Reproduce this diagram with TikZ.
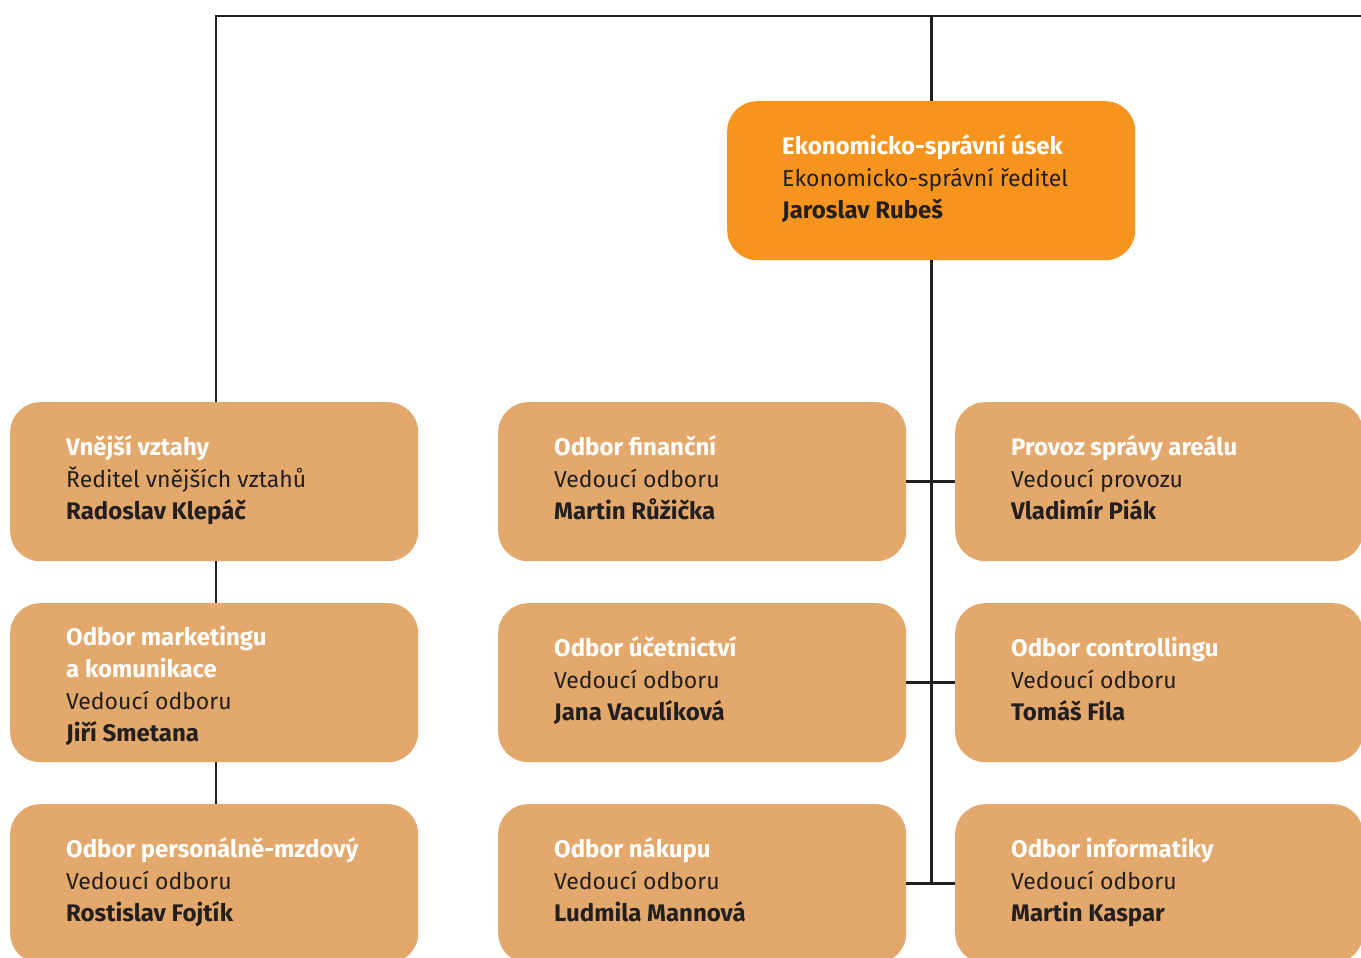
\documentclass[tikz,border=0pt]{standalone}
\usepackage{fontspec}
\setmainfont{Fira Sans}
\usetikzlibrary{calc}
\definecolor{orangeA}{HTML}{F7941D}
\definecolor{tanA}{HTML}{E3A86B}
\definecolor{inkA}{HTML}{231F20}
\newcommand{\hdA}[1]{{\fontsize{24}{32}\selectfont\bfseries\color{white}#1}}
\newcommand{\nmA}[1]{{\fontsize{24}{32}\selectfont\bfseries #1}}
\newcommand{\stA}{\rule{0pt}{26pt}}
\begin{document}
\begin{tikzpicture}[x=1pt,y=-1pt,
  box/.style={draw=none, fill=tanA, rounded corners=30pt, minimum width=408pt, minimum height=159pt, inner sep=0pt, anchor=north west},
  txt/.style={anchor=north west, align=left, inner sep=0pt, font=\fontsize{23}{32}\selectfont, text=inkA},
  link/.style={draw=inkA, line width=2.8pt}]
\useasboundingbox (0,0) rectangle (1361,958);
\clip (0,0) rectangle (1361,958);
% boxes
\node[box, fill=orangeA] (top) at (727,101) {};
\node[box] (l1) at (10,402) {};
\node[box] (l2) at (10,603) {};
\node[box] (l3) at (10,804) {};
\node[box] (m1) at (498,402) {};
\node[box] (m2) at (498,603) {};
\node[box] (m3) at (498,804) {};
\node[box] (r1) at (955,402) {};
\node[box] (r2) at (955,603) {};
\node[box] (r3) at (955,804) {};
% connectors
\coordinate (tr) at (1380,16);
\coordinate (lx) at (216,0);
\draw[link] (tr) -- (tr -| lx) -- (l1.north -| lx);
\draw[link] (top.north |- tr) -- (top.north);
\draw[link] (l1.south -| lx) -- (l2.north -| lx);
\draw[link] (l2.south -| lx) -- (l3.north -| lx);
\draw[link] (top.south) -- (top.south |- m3.east);
\draw[link] (m1.east) -- (r1.west);
\draw[link] (m2.east) -- (r2.west);
\draw[link] (m3.east) -- (r3.west);
% texts
\node[txt] (t0) at ($(top.north west)+(55,27)$) {\stA\hdA{Ekonomicko-správní úsek}\\Ekonomicko-správní ředitel\\\nmA{Jaroslav Rubeš}};
\node[txt] (tl1) at ($(l1.north west)+(56,27)$) {\stA\hdA{Vnější vztahy}\\Ředitel vnějších vztahů\\\nmA{Radoslav Klepáč}};
\node[txt] (tl2) at ($(l2.north west)+(56,16)$) {\stA\hdA{Odbor marketingu}\\\hdA{a komunikace}\\Vedoucí odboru\\\nmA{Jiří Smetana}};
\node[txt] (tl3) at ($(l3.north west)+(56,27)$) {\stA\hdA{Odbor personálně-mzdový}\\Vedoucí odboru\\\nmA{Rostislav Fojtík}};
\node[txt] (tm1) at ($(m1.north west)+(56,27)$) {\stA\hdA{Odbor finanční}\\Vedoucí odboru\\\nmA{Martin Růžička}};
\node[txt] (tm2) at ($(m2.north west)+(56,27)$) {\stA\hdA{Odbor účetnictví}\\Vedoucí odboru\\\nmA{Jana Vaculíková}};
\node[txt] (tm3) at ($(m3.north west)+(56,27)$) {\stA\hdA{Odbor nákupu}\\Vedoucí odboru\\\nmA{Ludmila Mannová}};
\node[txt] (tr1) at ($(r1.north west)+(56,27)$) {\stA\hdA{Provoz správy areálu}\\Vedoucí provozu\\\nmA{Vladimír Piák}};
\node[txt] (tr2) at ($(r2.north west)+(56,27)$) {\stA\hdA{Odbor controllingu}\\Vedoucí odboru\\\nmA{Tomáš Fila}};
\node[txt] (tr3) at ($(r3.north west)+(56,27)$) {\stA\hdA{Odbor informatiky}\\Vedoucí odboru\\\nmA{Martin Kaspar}};
\end{tikzpicture}
\end{document}
